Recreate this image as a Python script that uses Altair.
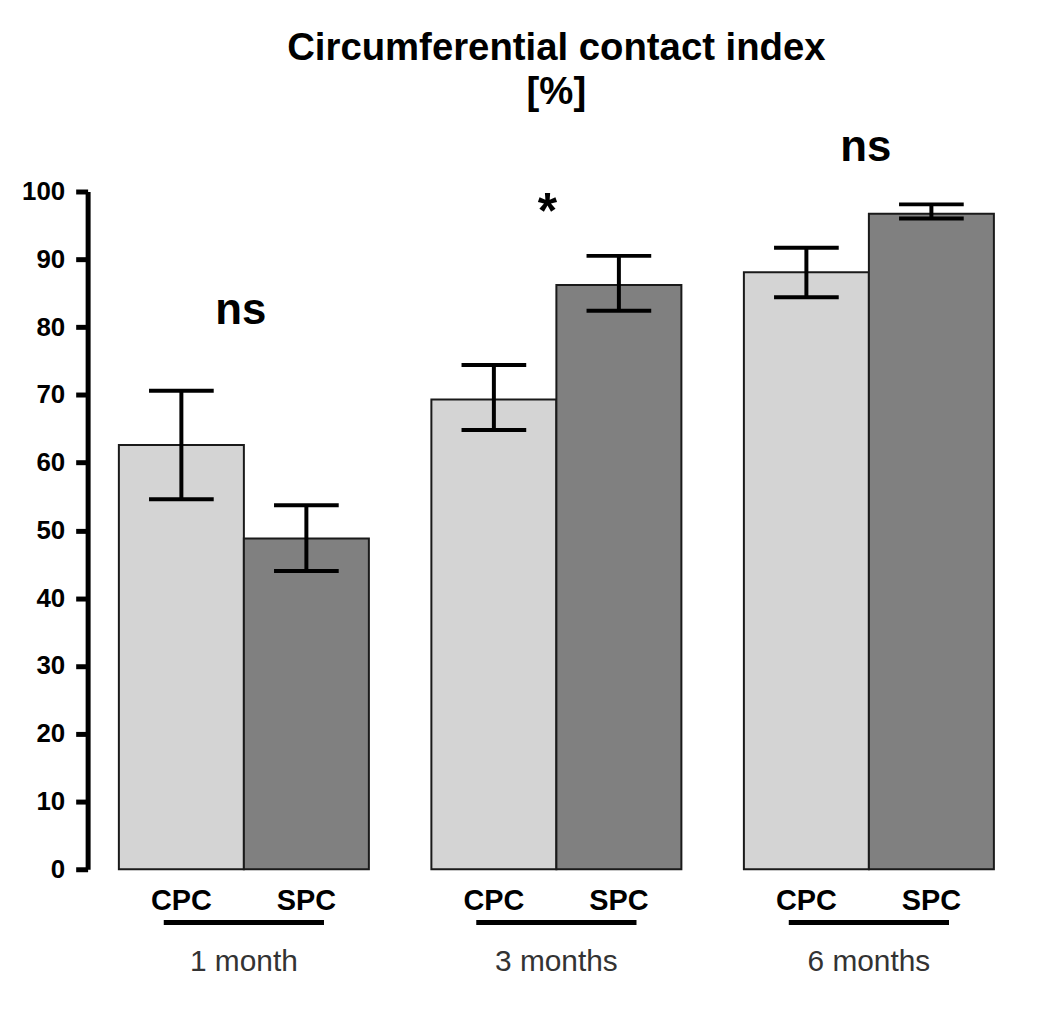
import altair as alt
import pandas as pd

groups = ["1 month", "3 months", "6 months"]
types = ["CPC", "SPC"]
means = [62.6, 48.8, 69.3, 86.2, 88.1, 96.7]
err_hi = [70.6, 53.7, 74.4, 90.5, 91.7, 98.1]
err_lo = [54.6, 44.0, 64.8, 82.4, 84.4, 96.0]

sig_labels = ["ns", "*", "ns"]
sig_y = [80.5, 94.6, 104.5]

rows = []
i = 0
for g in groups:
    for t in types:
        rows.append({"group": g, "type": t, "mean": means[i], "hi": err_hi[i], "lo": err_lo[i]})
        i += 1
df = pd.DataFrame(rows)
sig_df = pd.DataFrame({"group": groups, "label": sig_labels, "y": sig_y})
grp_df = pd.DataFrame({"group": groups})

FONT = "Liberation Sans"

x = alt.X("group:N", sort=groups, axis=None,
          scale=alt.Scale(paddingInner=0.2, paddingOuter=0.1))
xo = alt.XOffset("type:N", sort=types, scale=alt.Scale(paddingInner=0, paddingOuter=0))
yscale = alt.Scale(domain=[0, 100], nice=False, zero=True)

base = alt.Chart(df)

bars = base.mark_bar(stroke="#1a1a1a", strokeWidth=2).encode(
    x=x, xOffset=xo,
    y=alt.Y("mean:Q", scale=yscale,
            axis=alt.Axis(values=list(range(0, 101, 10)), title=None, grid=False,
                          domainWidth=5, domainColor="black", tickWidth=5, tickColor="black",
                          tickSize=12, labelFontSize=26, labelFontWeight="bold",
                          labelFont=FONT, labelColor="black", labelPadding=11)),
    color=alt.Color("type:N", sort=types, legend=None,
                    scale=alt.Scale(domain=types, range=["#d4d4d4", "#808080"])),
)

err = base.mark_rule(color="black", strokeWidth=4).encode(
    x=x, xOffset=xo, y=alt.Y("lo:Q", scale=yscale), y2="hi:Q")
cap_hi = base.mark_tick(color="black", thickness=4, size=65, orient="horizontal",
                        opacity=1).encode(
    x=x, xOffset=xo, y=alt.Y("hi:Q", scale=yscale))
cap_lo = base.mark_tick(color="black", thickness=4, size=65, orient="horizontal",
                        opacity=1).encode(
    x=x, xOffset=xo, y=alt.Y("lo:Q", scale=yscale))

type_lbl = base.mark_text(font=FONT, fontSize=29, fontWeight="bold", baseline="alphabetic",
                          color="black").encode(
    x=x, xOffset=xo, y=alt.value(722), text="type:N")

underline = alt.Chart(grp_df).mark_tick(color="black", thickness=5, size=161,
                                        orient="horizontal", opacity=1).encode(
    x=x, y=alt.value(734.5))

grp_lbl = alt.Chart(grp_df).mark_text(font=FONT, fontSize=30, baseline="alphabetic",
                                      color="#333333").encode(
    x=x, y=alt.value(783), text="group:N")

sig_ns = alt.Chart(sig_df).transform_filter(alt.datum.label == "ns").mark_text(
    font=FONT, fontSize=44, fontWeight="bold", baseline="alphabetic", color="black", dx=-3
).encode(x=x, y=alt.Y("y:Q", scale=yscale), text="label:N")

sig_star = alt.Chart(sig_df).transform_filter(alt.datum.label == "*").mark_text(
    font=FONT, fontSize=50, fontWeight="bold", baseline="alphabetic", color="black", dx=-9
).encode(x=x, y=alt.Y("y:Q", scale=yscale), text="label:N")

chart = alt.layer(bars, err, cap_hi, cap_lo, type_lbl, underline, grp_lbl,
                  sig_ns, sig_star).properties(
    width=942, height=681,
    title=alt.TitleParams(["Circumferential contact index", "[%]"], font=FONT, fontSize=38.5,
                          fontWeight="bold", color="black", anchor="middle",
                          lineHeight=44, offset=14, frame="group"),
    autosize=alt.AutoSizeParams(type="none"),
    padding={"left": 80, "top": 182, "right": 30, "bottom": 130},
).configure_view(stroke=None)

chart.save("out.html", embed_options={"renderer": "svg", "actions": False})
